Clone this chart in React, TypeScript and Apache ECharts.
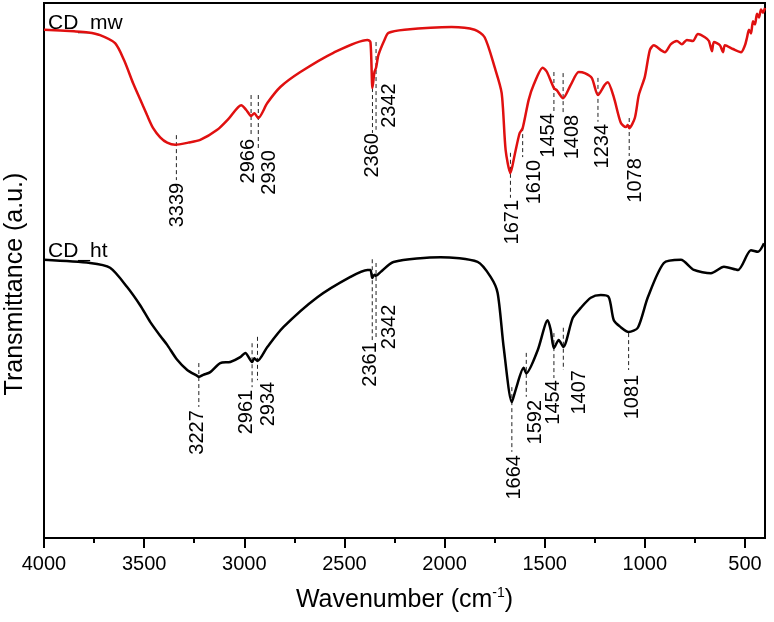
import React, { useEffect, useRef } from "react";
import * as echarts from "echarts";

const FONT = "'Liberation Sans', Arial, sans-serif";

const tickValues = [4000, 3500, 3000, 2500, 2000, 1500, 1000, 500];
const minorTickValues = [3750, 3250, 2750, 2250, 1750, 1250, 750];

// CD_mw spectrum (red)
const mwWave = [4000, 3850, 3780, 3720, 3645, 3600, 3555, 3520, 3485, 3455, 3420, 3385, 3345, 3280, 3220, 3135, 3080, 3015, 2990, 2966, 2950, 2930, 2885, 2820, 2720, 2555, 2385, 2370, 2360, 2350, 2342, 2330, 2300, 2280, 2200, 1965, 1850, 1800, 1750, 1715, 1695, 1671, 1650, 1625, 1610, 1580, 1555, 1510, 1490, 1454, 1440, 1408, 1370, 1330, 1300, 1265, 1234, 1200, 1185, 1155, 1120, 1095, 1085, 1078, 1050, 1030, 1000, 975, 955, 920, 900, 870, 840, 815, 790, 760, 735, 700, 680, 665, 655, 625, 610, 600, 560, 520, 500, 490, 480, 470, 460, 450, 440, 430, 420, 410, 400];
const mwT = [95.0, 94.7, 94.5, 94.0, 92.5, 89.3, 85.0, 82.0, 79.0, 76.6, 74.9, 73.9, 73.5, 73.9, 74.4, 76.3, 78.3, 80.9, 80.0, 78.9, 79.4, 78.5, 81.3, 84.3, 87.1, 90.7, 93.1, 92.7, 84.1, 87.1, 87.9, 90.3, 93.1, 94.4, 95.0, 95.5, 95.0, 93.6, 88.0, 83.2, 72.5, 68.2, 71.6, 75.7, 76.6, 81.9, 84.7, 87.9, 87.2, 84.1, 83.7, 82.2, 84.7, 87.1, 86.9, 86.0, 82.8, 84.7, 85.2, 82.4, 77.6, 76.8, 77.2, 76.6, 78.5, 82.8, 86.2, 91.2, 92.1, 91.2, 90.8, 92.3, 92.9, 92.3, 93.1, 92.9, 94.2, 93.6, 92.9, 91.0, 92.7, 92.1, 90.8, 92.1, 91.4, 90.8, 92.1, 93.5, 95.0, 94.3, 96.6, 96.0, 98.0, 97.3, 98.8, 98.2, 99.1];

// CD_ht spectrum (black)
const htWave = [4000, 3770, 3670, 3585, 3520, 3470, 3420, 3385, 3335, 3285, 3235, 3227, 3205, 3170, 3120, 3070, 3020, 2995, 2961, 2950, 2934, 2885, 2805, 2635, 2470, 2385, 2370, 2361, 2350, 2342, 2320, 2255, 2020, 1835, 1770, 1735, 1705, 1664, 1645, 1605, 1592, 1535, 1485, 1470, 1454, 1430, 1407, 1360, 1320, 1270, 1220, 1180, 1155, 1120, 1081, 1035, 985, 905, 820, 755, 670, 605, 535, 470, 435, 405];
const htT = [52.0, 51.4, 50.5, 46.9, 43.5, 40.4, 37.8, 36.1, 33.3, 31.4, 30.3, 30.1, 30.5, 31.0, 32.7, 32.9, 33.8, 34.6, 32.9, 33.6, 33.1, 35.7, 39.4, 45.0, 48.8, 50.1, 50.1, 48.6, 49.2, 49.0, 49.7, 51.6, 52.5, 51.6, 48.8, 45.8, 35.7, 25.4, 27.7, 31.8, 30.8, 35.1, 40.7, 38.9, 35.5, 37.0, 35.7, 41.1, 43.0, 44.9, 45.4, 45.0, 40.7, 39.4, 38.5, 39.3, 45.0, 51.4, 52.0, 50.1, 49.5, 50.7, 50.1, 53.8, 53.5, 55.1];

// Peak annotations: label, line wavenumber, line top, line bottom, label wavenumber, label top
const mwPeakLabels = ["3339", "2966", "2930", "2360", "2342", "1671", "1610", "1454", "1408", "1234", "1078"];
const mwPeakWave = [3339, 2966, 2930, 2360, 2342, 1671, 1610, 1454, 1408, 1234, 1078];
const mwLineTop = [75.3, 82.8, 82.8, 84.1, 92.7, 72.0, 76.8, 87.1, 86.9, 86.0, 78.5];
const mwLineBottom = [66.9, 75.0, 72.9, 75.7, 76.3, 63.6, 71.2, 79.4, 79.1, 77.8, 71.4];
const mwLabelWave = [3340, 2985, 2880, 2365, 2280, 1670, 1560, 1490, 1370, 1220, 1055];
const mwLabelTop = [66.4, 74.6, 72.5, 75.7, 85.0, 63.2, 70.7, 79.4, 79.1, 77.4, 71.0];

const htPeakLabels = ["3227", "2961", "2934", "2361", "2342", "1664", "1592", "1454", "1407", "1081"];
const htPeakWave = [3227, 2961, 2934, 2361, 2342, 1664, 1592, 1454, 1407, 1081];
const htLineTop = [32.7, 36.4, 37.6, 52.1, 51.4, 28.2, 34.6, 38.3, 39.3, 38.3];
const htLineBottom = [24.5, 28.2, 29.5, 37.0, 37.0, 16.1, 26.4, 29.9, 31.4, 31.4];
const htLabelWave = [3240, 2995, 2885, 2375, 2280, 1660, 1555, 1465, 1335, 1070];
const htLabelTop = [23.9, 27.7, 29.2, 36.6, 43.6, 15.5, 25.8, 29.5, 31.4, 30.5];

const zip = (a: number[], b: number[]) => a.map((v, i) => [v, b[i]]);

export default function App() {
  const ref = useRef<HTMLDivElement>(null);
  useEffect(() => {
    if (!ref.current) return;
    const chart = echarts.init(ref.current, null, { renderer: "svg" });

    const lineData = [
      ...mwPeakWave.map((w, i) => [w, mwLineTop[i], mwLineBottom[i]]),
      ...htPeakWave.map((w, i) => [w, htLineTop[i], htLineBottom[i]]),
    ];
    const labelTexts = [...mwPeakLabels, ...htPeakLabels];
    const labelData = [
      ...mwLabelWave.map((w, i) => [w, mwLabelTop[i]]),
      ...htLabelWave.map((w, i) => [w, htLabelTop[i]]),
    ];

    chart.setOption({
      animation: false,
      grid: {
        left: 44,
        right: 9,
        top: 3,
        bottom: 84,
        show: true,
        borderColor: "#000",
        borderWidth: 2,
        backgroundColor: "transparent",
      },
      xAxis: [
        {
          type: "value",
          min: 400,
          max: 4000,
          inverse: true,
          position: "bottom",
          axisLine: { show: true, onZero: false, lineStyle: { color: "#000", width: 2 } },
          axisTick: { show: true, length: 10, customValues: tickValues, lineStyle: { color: "#000", width: 2 } },
          axisLabel: {
            customValues: tickValues,
            fontSize: 20,
            color: "#000",
            margin: 15,
            fontFamily: FONT,
            formatter: (v: number) => String(v),
          },
          splitLine: { show: false },
          name: "{a|Wavenumber (cm}{b|-1}{a|)}",
          nameLocation: "middle",
          nameGap: 47,
          nameTextStyle: {
            rich: {
              a: { fontSize: 25, fontFamily: FONT, color: "#000" },
              b: { fontSize: 14, fontFamily: FONT, color: "#000", padding: [0, 0, 12, 0] },
            },
          },
        },
        {
          type: "value",
          min: 400,
          max: 4000,
          inverse: true,
          position: "bottom",
          offset: 0,
          axisLine: { show: false, onZero: false },
          axisTick: { show: true, length: 5, customValues: minorTickValues, lineStyle: { color: "#000", width: 2 } },
          axisLabel: { show: false },
          splitLine: { show: false },
        },
      ],
      yAxis: {
        type: "value",
        min: 0,
        max: 100,
        axisLine: { show: true, lineStyle: { color: "#000", width: 2 } },
        axisTick: { show: false },
        axisLabel: { show: false },
        splitLine: { show: false },
      },
      graphic: [
        {
          type: "text",
          x: 13,
          y: 284,
          rotation: Math.PI / 2,
          style: { text: "Transmittance (a.u.)", fontSize: 25, fontFamily: FONT, fill: "#000", align: "center", verticalAlign: "middle" },
        },
        {
          type: "text",
          x: 48,
          y: 21,
          style: { text: "CD_mw", fontSize: 21, fontFamily: FONT, fill: "#000", align: "left", verticalAlign: "middle" },
        },
        {
          type: "text",
          x: 48,
          y: 249,
          style: { text: "CD_ht", fontSize: 21, fontFamily: FONT, fill: "#000", align: "left", verticalAlign: "middle" },
        },
      ],
      series: [
        {
          name: "CD_mw",
          type: "line",
          data: zip(mwWave, mwT),
          showSymbol: false,
          smooth: 0.25,
          lineStyle: { color: "#e01010", width: 2.5 },
          z: 5,
        },
        {
          name: "CD_ht",
          type: "line",
          data: zip(htWave, htT),
          showSymbol: false,
          smooth: 0.25,
          lineStyle: { color: "#000", width: 2.5 },
          z: 5,
        },
        {
          type: "custom",
          data: lineData,
          encode: { x: 0, y: [1, 2] },
          silent: true,
          z: 3,
          renderItem: (params: any, api: any) => {
            const p1 = api.coord([api.value(0), api.value(1)]);
            const p2 = api.coord([api.value(0), api.value(2)]);
            return {
              type: "line",
              shape: { x1: p1[0], y1: p1[1], x2: p2[0], y2: p2[1] },
              style: { stroke: "#222", lineWidth: 1, lineDash: [4, 3] },
            };
          },
        },
        {
          type: "custom",
          data: labelData,
          encode: { x: 0, y: 1 },
          silent: true,
          z: 4,
          renderItem: (params: any, api: any) => {
            const p = api.coord([api.value(0), api.value(1)]);
            return {
              type: "text",
              x: p[0],
              y: p[1],
              rotation: Math.PI / 2,
              style: {
                text: labelTexts[params.dataIndex],
                fontSize: 20,
                fontFamily: FONT,
                fill: "#000",
                align: "right",
                verticalAlign: "middle",
              },
            };
          },
        },
      ],
    });
    return () => chart.dispose();
  }, []);
  return <div ref={ref} style={{ position: "fixed", left: 0, top: 0, width: 774, height: 622 }} />;
}
